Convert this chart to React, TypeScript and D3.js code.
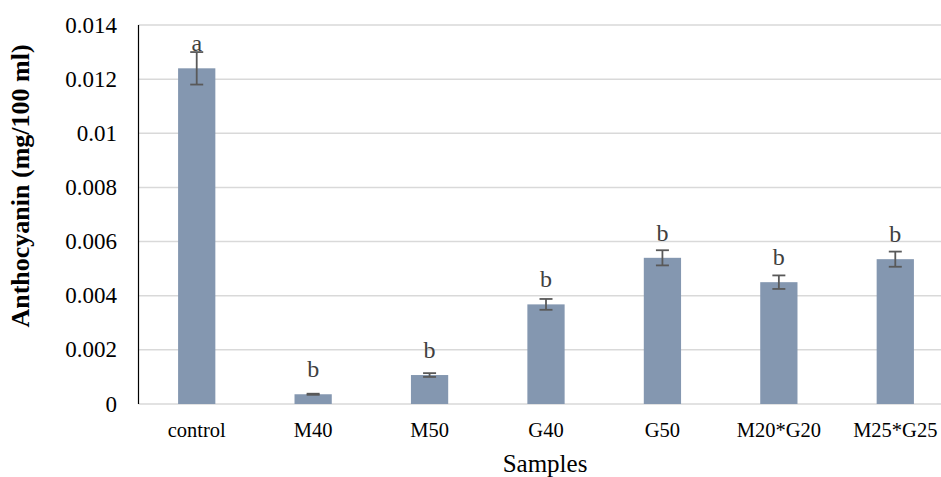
import React from "react";
import * as d3 from "d3";

const categories = ["control", "M40", "M50", "G40", "G50", "M20*G20", "M25*G25"];
const values = [0.0124, 0.00036, 0.00107, 0.00368, 0.0054, 0.0045, 0.00535];
const errors = [0.0006, 0.00002, 0.00007, 0.0002, 0.00028, 0.00025, 0.00028];
const letters = ["a", "b", "b", "b", "b", "b", "b"];
const yTicks = [0, 0.002, 0.004, 0.006, 0.008, 0.01, 0.012, 0.014];
const yTickLabels = ["0", "0.002", "0.004", "0.006", "0.008", "0.01", "0.012", "0.014"];

const W = 941;
const H = 477;
const left = 138.5;
const right = 953.5;
const top = 25;
const bottom = 404;

const font = "'Liberation Serif', 'Times New Roman', Times, serif";

export default function App() {
  const x = d3.scaleBand<string>().domain(categories).range([left, right]).paddingInner(0.68).paddingOuter(0.34);
  const y = d3.scaleLinear().domain([0, 0.014]).range([bottom, top]);
  const ts = { fontFamily: font };
  return (
    <svg width={W} height={H} style={{ position: "absolute", left: 0, top: 0, background: "#fff", fontFamily: font }}>
      {yTicks.map((t, i) => (
        <g key={"g" + i}>
          <line x1={left} x2={W} y1={y(t)} y2={y(t)} stroke="#d9d9d9" strokeWidth={1.5} />
          <text x={117} y={y(t) + 7.5} textAnchor="end" fontSize={23} fill="#000" style={ts}>
            {yTickLabels[i]}
          </text>
        </g>
      ))}
      <line x1={left} x2={left} y1={top} y2={bottom} stroke="#000" strokeWidth={1.2} />
      {categories.map((c, i) => {
        const cx = (x(c) as number) + x.bandwidth() / 2;
        const v = values[i];
        const e = errors[i];
        return (
          <g key={c}>
            <rect x={x(c)} y={y(v)} width={x.bandwidth()} height={y(0) - y(v)} fill="#8497b0" />
            <line x1={cx} x2={cx} y1={y(v + e)} y2={y(v - e)} stroke="#595959" strokeWidth={1.8} />
            <line x1={cx - 6.5} x2={cx + 6.5} y1={y(v + e)} y2={y(v + e)} stroke="#595959" strokeWidth={1.8} />
            <line x1={cx - 6.5} x2={cx + 6.5} y1={y(v - e)} y2={y(v - e)} stroke="#595959" strokeWidth={1.8} />
            <text x={cx} y={y(v) - 17} textAnchor="middle" fontSize={24} fill="#404040" style={ts}>
              {letters[i]}
            </text>
            <text x={cx} y={437} textAnchor="middle" fontSize={20.5} fill="#000" style={ts}>
              {c}
            </text>
          </g>
        );
      })}
      <text x={545} y={472} textAnchor="middle" fontSize={25} fill="#000" style={ts}>
        Samples
      </text>
      <text
        transform={`translate(29,186) rotate(-90)`}
        textAnchor="middle"
        fontSize={26}
        fontWeight="bold"
        fill="#000"
        style={ts}
      >
        Anthocyanin (mg/100 ml)
      </text>
    </svg>
  );
}
